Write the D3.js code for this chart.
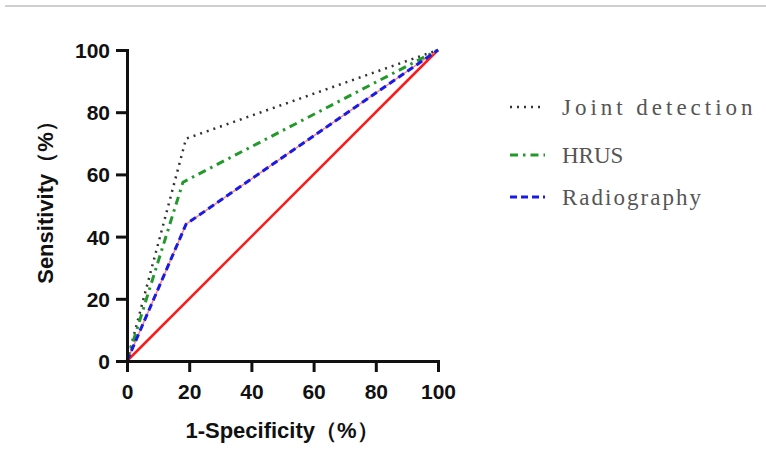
<!DOCTYPE html>
<html lang="en">
<head>
    <meta charset="UTF-8">
    <title>ROC curves</title>
    <script src="https://d3js.org/d3.v7.min.js"></script>
    <style>
        body { margin: 0; background: #fff; }
        .tick text { font-family: "Liberation Sans", Arial, sans-serif; font-weight: bold; font-size: 21px; fill: #111; }
    </style>
</head>
<body>
<svg id="roc" width="766" height="466"></svg>

<script>
    // Series names and their points (1-specificity %, sensitivity %)
    const seriesNames = ["Joint detection", "HRUS", "Radiography"];
    const jointPoints = [[0, 0], [19, 71.5], [100, 100]];
    const hrusPoints = [[0, 0], [18, 57.5], [100, 100]];
    const radioPoints = [[0, 0], [19, 44], [100, 100]];
    const refPoints = [[0, 0], [100, 100]];
    const tickValues = [0, 20, 40, 60, 80, 100];

    const svg = d3.select("#roc");

    // thin grey rule along the top
    svg.append("line")
        .attr("x1", 5).attr("x2", 766).attr("y1", 6).attr("y2", 6)
        .attr("stroke", "#cfcfcf").attr("stroke-width", 2);

    const x = d3.scaleLinear().domain([0, 100]).range([127, 438]);
    const y = d3.scaleLinear().domain([0, 100]).range([361, 50]);

    const line = d3.line().x(d => x(d[0])).y(d => y(d[1]));

    // reference diagonal
    svg.append("path").datum(refPoints)
        .attr("d", line).attr("fill", "none")
        .attr("stroke", "#ff1a1a").attr("stroke-width", 2.5);

    // radiography has a faint red line under its blue dashes
    svg.append("path").datum(radioPoints)
        .attr("d", line).attr("fill", "none")
        .attr("stroke", "#ff8080").attr("stroke-width", 1.5);

    const styles = [
        {data: jointPoints, color: "#333", dash: "2,5", width: 2.5},
        {data: hrusPoints, color: "#22992a", dash: "8,5,2.5,5", width: 3},
        {data: radioPoints, color: "#1a1ae6", dash: "7,4", width: 3}
    ];

    styles.forEach(s => {
        svg.append("path").datum(s.data)
            .attr("d", line).attr("fill", "none")
            .attr("stroke", s.color).attr("stroke-width", s.width)
            .attr("stroke-dasharray", s.dash);
    });

    // axes
    const xAxis = svg.append("g").attr("transform", "translate(0,361)")
        .call(d3.axisBottom(x).tickValues(tickValues).tickSize(11).tickPadding(12));
    const yAxis = svg.append("g").attr("transform", "translate(127,0)")
        .call(d3.axisLeft(y).tickValues(tickValues).tickSize(11).tickPadding(6));
    [xAxis, yAxis].forEach(a => {
        a.select(".domain").attr("stroke", "#111").attr("stroke-width", 3);
        a.selectAll(".tick line").attr("stroke", "#111").attr("stroke-width", 3);
    });
    yAxis.selectAll(".tick text").attr("dy", "0.36em");

    // axis titles
    svg.append("text")
        .attr("x", 282).attr("y", 438)
        .attr("text-anchor", "middle")
        .style("font-family", "'Liberation Sans', Arial, sans-serif")
        .style("font-weight", "bold").style("font-size", "22px").attr("fill", "#111")
        .text("1-Specificity（%）");
    svg.append("text")
        .attr("transform", "translate(53,197) rotate(-90)")
        .attr("text-anchor", "middle")
        .style("font-family", "'Liberation Sans', Arial, sans-serif")
        .style("font-weight", "bold").style("font-size", "22px").attr("fill", "#111")
        .text("Sensitivity（%）");

    // legend
    const legendY = [107, 155, 197];
    const legend = svg.append("g");
    styles.forEach((s, i) => {
        legend.append("line")
            .attr("x1", 510).attr("x2", 545)
            .attr("y1", legendY[i]).attr("y2", legendY[i])
            .attr("stroke", s.color).attr("stroke-width", s.width)
            .attr("stroke-dasharray", s.dash);
        const t = legend.append("text")
            .attr("x", 562).attr("y", legendY[i]).attr("dy", "0.35em")
            .style("font-family", "'Liberation Serif', serif")
            .style("font-size", "23px").attr("fill", "#555")
            .text(seriesNames[i]);
        // the original uses a monospaced serif; widen the spacing to match
        const want = seriesNames[i].length * 12.9 - 3;
        if (t.node().getComputedTextLength() < want) {
            t.attr("textLength", want).attr("lengthAdjust", "spacing");
        }
    });
</script>
</body>
</html>
